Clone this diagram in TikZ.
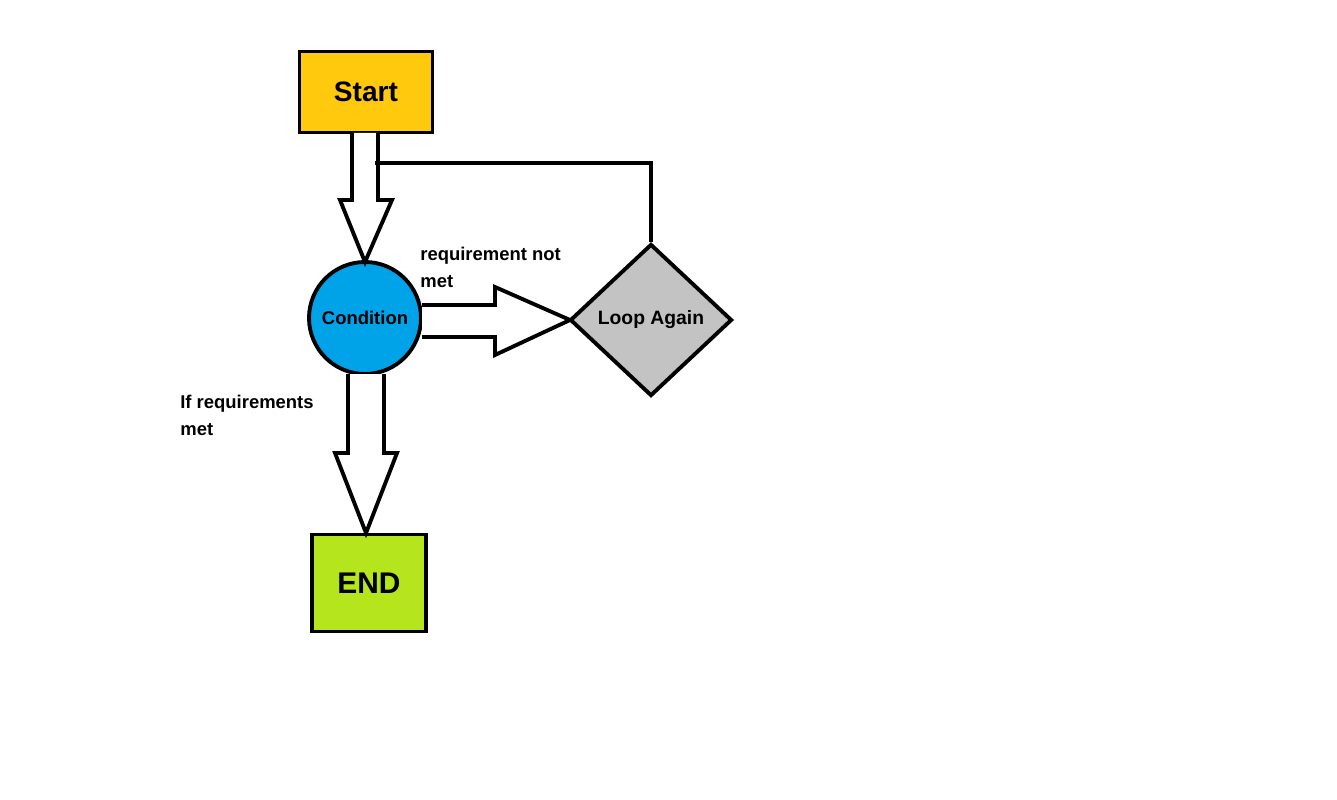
\documentclass[tikz,border=0pt]{standalone}
\usepackage{fontspec}
\setmainfont{Liberation Sans}
\usetikzlibrary{shapes.geometric}
\definecolor{startyellow}{HTML}{FFC90E}
\definecolor{condblue}{HTML}{00A2E8}
\definecolor{loopgray}{HTML}{C3C3C3}
\definecolor{endgreen}{HTML}{B5E61D}
\tikzset{
  blk/.style={draw=black, line width=2.2pt, font=\bfseries},
  hollow/.style={draw=black, line width=2.2pt, fill=white, line join=miter},
  lbl/.style={font=\bfseries\fontsize{10.5}{15}\selectfont, align=left, anchor=north west, inner sep=0pt}
}
\begin{document}
\begin{tikzpicture}[x=0.02cm, y=-0.02cm]
  \useasboundingbox (0,0) rectangle (1337,800);
  % boxes
  \node[blk, fill=startyellow, minimum width=133*0.02cm, minimum height=81*0.02cm,
    font=\bfseries\fontsize{16}{18}\selectfont] (start) at (366,92) {Start};
  \node[blk, circle, fill=condblue, minimum size=112*0.02cm, inner sep=0pt,
    font=\bfseries\fontsize{10.5}{12}\selectfont] (cond) at (365,318) {Condition};
  \node[blk, diamond, fill=loopgray, minimum width=162*0.02cm, minimum height=152*0.02cm,
    inner sep=0pt, font=\bfseries\fontsize{11}{12}\selectfont] (loop) at (651,320) {Loop Again};
  \node[blk, fill=endgreen, minimum width=114*0.02cm, minimum height=97*0.02cm,
    font=\bfseries\fontsize{17}{18}\selectfont] (end) at (369,583) {END};
  % hollow arrows
  \draw[hollow] (352,133) -- (352,200) -- (340,200) -- (365,262) -- (392,200) -- (378,200) -- (378,133);
  \draw[hollow] (422,305) -- (495,305) -- (495,287) -- (570,320) -- (495,355) -- (495,337) -- (422,337);
  \draw[hollow] (348,374) -- (348,453) -- (335,453) -- (366,533) -- (397,453) -- (384,453) -- (384,374);
  % loop back
  \coordinate (back) at (375,163);
  \draw[line width=2.2pt] (loop.north) |- (back);
  % labels
  \node[lbl] (notmet) at (420,247) {requirement not\\met};
  \node[lbl] (met) at (180,395) {If requirements\\met};
\end{tikzpicture}
\end{document}
